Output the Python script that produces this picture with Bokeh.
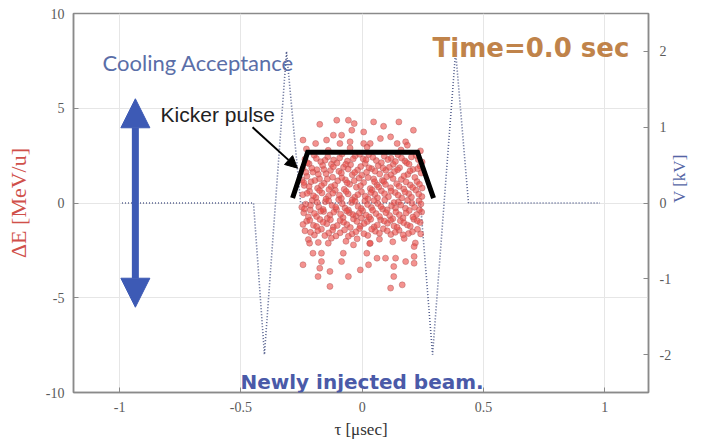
import math
from bokeh.plotting import figure
from bokeh.models import Range1d, LinearAxis, FixedTicker, Label, Arrow, NormalHead, ColumnDataSource
from bokeh.embed import file_html
from bokeh.resources import INLINE

# ---- data ----
x_ticks = [-1, -0.5, 0, 0.5, 1]
x_tick_labels = ["-1", "-0.5", "0", "0.5", "1"]
de_ticks = [-10, -5, 0, 5, 10]
de_tick_labels = ["-10", "-5", "0", "5", "10"]
v_ticks = [-2, -1, 0, 1, 2]
v_tick_labels = ["-2", "-1", "0", "1", "2"]

# RF voltage waveform (barrier bucket), V [kV]
wave_tau = [-0.99, -0.448, -0.403, -0.312, -0.254, 0.240, 0.290, 0.385, 0.438, 0.98]
wave_v = [0, 0, -2.0, 2.0, 0, 0, -2.0, 2.0, 0, 0]

# kicker pulse outline (in dE units)
kicker_tau = [-0.287, -0.225, 0.228, 0.294]
kicker_de = [0.26, 2.68, 2.68, 0.26]

# newly injected beam particles (tau [usec], dE [MeV/u])
beam_points = [
    (-0.236, 2.31), (-0.198, 2.52), (-0.171, 2.18), (-0.142, 2.44), (-0.118, 2.27), (-0.083, 2.58),
    (-0.061, 2.21), (-0.029, 2.49), (0.004, 2.33), (0.027, 2.56), (0.058, 2.24), (0.091, 2.47),
    (0.119, 2.36), (0.147, 2.55), (0.176, 2.22), (0.203, 2.43), (0.231, 2.29),
    (-0.244, 1.83), (-0.219, 2.07), (-0.187, 1.76), (-0.163, 1.98), (-0.131, 1.72), (-0.104, 2.11),
    (-0.077, 1.89), (-0.048, 2.02), (-0.019, 1.74), (0.012, 2.09), (0.039, 1.81), (0.066, 1.97),
    (0.097, 1.73), (0.128, 2.04), (0.154, 1.86), (0.183, 2.13), (0.209, 1.77), (0.238, 1.95),
    (-0.006, 1.92), (0.112, 1.88),
    (-0.228, 1.41), (-0.203, 1.63), (-0.176, 1.28), (-0.149, 1.55), (-0.122, 1.36), (-0.096, 1.67),
    (-0.069, 1.22), (-0.041, 1.49), (-0.013, 1.31), (0.018, 1.62), (0.047, 1.27), (0.072, 1.53),
    (0.101, 1.39), (0.133, 1.66), (0.161, 1.24), (0.188, 1.51), (0.217, 1.35), (0.243, 1.58),
    (-0.248, 1.21), (0.083, 1.19),
    (-0.239, 0.93), (-0.211, 1.12), (-0.184, 0.78), (-0.157, 1.04), (-0.128, 0.86), (-0.101, 1.17),
    (-0.074, 0.72), (-0.052, 0.99), (-0.024, 0.83), (0.006, 1.08), (0.033, 0.76), (0.061, 0.96),
    (0.089, 1.14), (0.117, 0.81), (0.142, 1.02), (0.171, 0.74), (0.198, 0.95), (0.226, 1.13),
    (0.247, 0.79), (-0.137, 0.71),
    (-0.245, 0.44), (-0.217, 0.62), (-0.191, 0.29), (-0.166, 0.53), (-0.139, 0.36), (-0.111, 0.67),
    (-0.086, 0.24), (-0.058, 0.48), (-0.031, 0.31), (-0.003, 0.59), (0.024, 0.22), (0.052, 0.46),
    (0.079, 0.64), (0.108, 0.33), (0.136, 0.55), (0.163, 0.27), (0.192, 0.49), (0.221, 0.68),
    (0.246, 0.34), (0.041, 0.69),
    (-0.233, -0.06), (-0.206, 0.14), (-0.179, -0.21), (-0.152, 0.07), (-0.124, -0.13), (-0.097, 0.18),
    (-0.071, -0.27), (-0.044, 0.02), (-0.017, -0.18), (0.011, 0.11), (0.038, -0.24), (0.064, -0.03),
    (0.093, 0.16), (0.121, -0.15), (0.149, 0.05), (0.178, -0.28), (0.205, -0.01), (0.234, 0.12),
    (-0.249, -0.22), (0.137, -0.26),
    (-0.241, -0.52), (-0.214, -0.37), (-0.188, -0.71), (-0.159, -0.45), (-0.133, -0.63), (-0.106, -0.34),
    (-0.079, -0.77), (-0.053, -0.51), (-0.026, -0.68), (0.002, -0.41), (0.029, -0.74), (0.057, -0.56),
    (0.084, -0.32), (0.113, -0.66), (0.139, -0.47), (0.168, -0.79), (0.194, -0.39), (0.224, -0.61),
    (0.245, -0.48), (-0.003, -0.79),
    (-0.229, -0.96), (-0.201, -1.18), (-0.174, -0.87), (-0.146, -1.09), (-0.119, -1.27), (-0.091, -0.92),
    (-0.063, -1.14), (-0.036, -0.84), (-0.008, -1.22), (0.021, -0.98), (0.049, -1.26), (0.076, -0.89),
    (0.104, -1.07), (0.131, -1.21), (0.157, -0.94), (0.186, -1.16), (0.213, -0.86), (0.239, -1.03),
    (-0.236, -1.47), (-0.197, -1.69), (-0.168, -1.38), (-0.138, -1.58), (-0.108, -1.74), (-0.073, -1.42),
    (-0.042, -1.63), (-0.011, -1.35), (0.023, -1.71), (0.054, -1.49), (0.087, -1.36), (0.118, -1.66),
    (0.152, -1.44), (0.191, -1.61), (0.228, -1.39),
    (-0.222, -1.93), (-0.181, -2.08), (-0.127, -1.86), (-0.067, -2.02), (-0.021, -1.89), (0.031, -2.14),
    (0.071, -1.91), (0.126, -2.05), (0.173, -1.87), (0.219, -2.11),
    # second pass over the dense core
    (-0.226, 2.12), (-0.189, 2.35), (-0.153, 2.26), (-0.127, 2.05), (-0.093, 2.38), (-0.068, 2.04),
    (-0.037, 2.33), (-0.011, 2.57), (0.016, 2.28), (0.044, 2.41), (0.079, 2.13), (0.106, 2.29),
    (0.137, 2.19), (0.162, 2.37), (0.193, 2.05), (0.222, 2.51), (0.247, 2.16),
    (-0.232, 1.62), (-0.208, 1.84), (-0.181, 1.52), (-0.158, 1.77), (-0.119, 1.91), (-0.086, 1.58),
    (-0.058, 1.79), (-0.031, 1.61), (-0.002, 1.47), (0.028, 1.86), (0.053, 1.68), (0.086, 1.84),
    (0.118, 1.49), (0.146, 1.76), (0.172, 1.43), (0.197, 1.69), (0.229, 1.81),
    (-0.241, 1.08), (-0.219, 0.87), (-0.195, 1.19), (-0.168, 0.92), (-0.144, 1.26), (-0.113, 0.94),
    (-0.084, 1.33), (-0.062, 1.07), (-0.033, 1.18), (-0.007, 0.91), (0.024, 1.34), (0.051, 1.12),
    (0.068, 0.84), (0.096, 0.98), (0.127, 1.29), (0.152, 0.88), (0.181, 1.11), (0.208, 0.82), (0.236, 0.99),
    (-0.227, 0.51), (-0.201, 0.38), (-0.176, 0.66), (-0.149, 0.21), (-0.121, 0.52), (-0.094, 0.41),
    (-0.066, 0.61), (-0.041, 0.17), (-0.018, 0.44), (0.013, 0.36), (0.036, 0.55), (0.063, 0.27),
    (0.092, 0.49), (0.119, 0.63), (0.148, 0.41), (0.177, 0.58), (0.203, 0.31), (0.233, 0.47),
    (-0.238, -0.31), (-0.213, -0.12), (-0.186, 0.04), (-0.161, -0.34), (-0.138, 0.11), (-0.109, -0.22),
    (-0.082, -0.04), (-0.057, -0.37), (-0.029, 0.09), (-0.004, -0.29), (0.022, -0.08), (0.049, 0.13),
    (0.077, -0.19), (0.103, -0.36), (0.131, 0.02), (0.159, -0.11), (0.187, 0.14), (0.216, -0.23), (0.242, -0.05),
    (-0.222, -0.73), (-0.197, -0.55), (-0.171, -0.43), (-0.144, -0.81), (-0.117, -0.48), (-0.089, -0.59),
    (-0.064, -0.42), (-0.039, -0.61), (-0.012, -0.53), (0.016, -0.64), (0.043, -0.38), (0.071, -0.71),
    (0.098, -0.51), (0.126, -0.83), (0.153, -0.62), (0.181, -0.53), (0.209, -0.74), (0.236, -0.36),
    (-0.244, -1.13), (-0.216, -0.91), (-0.188, -1.24), (-0.161, -1.02), (-0.131, -0.88), (-0.103, -1.19),
    (-0.077, -1.01), (-0.049, -1.29), (-0.022, -0.97), (0.008, -1.08), (0.035, -0.86), (0.062, -1.17),
    (0.091, -0.95), (0.117, -0.91), (0.144, -1.28), (0.171, -1.04), (0.198, -1.23), (0.227, -0.94),
    (-0.213, -1.55), (-0.183, -1.46), (-0.154, -1.72), (-0.122, -1.43), (-0.091, -1.57), (-0.057, -1.76),
    (-0.026, -1.52), (0.007, -1.62), (0.039, -1.38), (0.071, -1.59), (0.103, -1.47), (0.136, -1.55),
    (0.169, -1.68), (0.207, -1.52), (0.241, -1.63),
    # sparse upper halo
    (-0.23, 2.85), (-0.05, 2.9), (0.16, 2.8), (0.24, 2.75), (0.02, 2.95), (-0.14, 2.78),
    (-0.105, 4.37), (-0.057, 4.37), (-0.033, 4.19), (0.047, 4.28), (0.151, 4.28), (0.211, 3.84),
    (-0.043, 3.84), (0.006, 3.75), (-0.119, 3.58), (-0.085, 3.58), (0.075, 3.40), (0.117, 3.49),
    (0.179, 3.23), (-0.244, 3.32), (-0.192, 3.14), (-0.147, 3.32), (-0.092, 3.14), (-0.05, 3.23),
    (0.006, 3.14), (0.033, 3.14), (0.144, 3.14), (0.186, 3.05), (-0.175, 4.15), (0.088, 4.05),
    # sparse lower halo
    (-0.244, -3.26), (-0.133, -3.61), (-0.133, -4.40), (-0.057, -3.88), (-0.008, -3.53), (-0.182, -3.88),
    (-0.175, -3.44), (-0.085, -3.09), (0.026, -3.26), (0.061, -2.91), (0.096, -2.91), (0.1375, -2.91),
    (0.130, -3.35), (0.130, -3.88), (0.117, -4.49), (0.165, -4.32), (0.179, -3.09), (0.214, -3.18),
    (0.214, -2.30), (-0.217, -2.12), (-0.168, -2.65), (-0.203, -2.65), (-0.078, -2.65), (0.019, -2.65),
    (-0.140, -2.12), (-0.036, -2.21), (0.033, -2.12), (0.214, -2.82), (-0.168, -3.09),
]
beam_tau = [pt[0] for pt in beam_points]
beam_de = [pt[1] for pt in beam_points]

# ---- figure ----
p = figure(width=702, height=445, output_backend="svg", toolbar_location=None,
           x_range=Range1d(-1.19, 1.18), y_range=Range1d(-10, 10),
           min_border_left=73, min_border_right=54, min_border_top=13, min_border_bottom=53)
p.extra_y_ranges = {"v": Range1d(-2.5, 2.5)}
p.background_fill_color = "white"
p.border_fill_color = "white"
p.outline_line_color = "#8a8a8a"
p.outline_line_width = 1.5

SERIF = "Liberation Serif"

def style_axis(ax, ticks, labels, standoff):
    ax.ticker = FixedTicker(ticks=ticks)
    ax.major_label_overrides = {t: l for t, l in zip(ticks, labels)}
    ax.major_tick_in = 5
    ax.major_tick_out = 0
    ax.minor_tick_line_color = None
    ax.axis_line_color = "#8a8a8a"
    ax.axis_line_width = 1.5
    ax.major_tick_line_color = "#8a8a8a"
    ax.major_label_text_font = SERIF
    ax.major_label_text_font_size = "14px"
    ax.major_label_text_color = "#5a5a5a"
    ax.major_label_standoff = standoff
    ax.axis_label_text_font = SERIF
    ax.axis_label_text_font_style = "normal"

style_axis(p.xaxis[0], x_ticks, x_tick_labels, 9)
p.xaxis[0].axis_label = "τ [μsec]"
p.xaxis[0].axis_label_text_font_size = "17px"
p.xaxis[0].axis_label_text_color = "#333333"
p.xaxis[0].axis_label_standoff = 5

style_axis(p.yaxis[0], de_ticks, de_tick_labels, 9)
p.yaxis[0].axis_label = "ΔE [MeV/u]"
p.yaxis[0].axis_label_text_font_size = "22px"
p.yaxis[0].axis_label_text_color = "#d0504a"
p.yaxis[0].axis_label_standoff = 12

vaxis = LinearAxis(y_range_name="v")
style_axis(vaxis, v_ticks, v_tick_labels, 11)
vaxis.axis_label = "V [kV]"
vaxis.axis_label_text_font_size = "17px"
vaxis.axis_label_text_color = "#5565a5"
vaxis.axis_label_standoff = 5
try:
    vaxis.axis_label_orientation = math.pi / 2
except Exception:
    pass
p.add_layout(vaxis, "right")

p.xgrid.ticker = FixedTicker(ticks=x_ticks)
p.ygrid.ticker = FixedTicker(ticks=de_ticks)
p.xgrid.grid_line_color = "#e6e6e6"
p.ygrid.grid_line_color = "#e6e6e6"

# voltage waveform
p.line(wave_tau, wave_v, y_range_name="v", line_color="#56618f", line_width=1.6, line_dash="1 2")

# beam particles
src = ColumnDataSource(dict(tau=beam_tau, de=beam_de))
p.scatter("tau", "de", source=src, marker="circle", size=6,
          fill_color="#ec4a45", fill_alpha=0.6, line_color="#b25a5a", line_alpha=0.6, line_width=0.8)

# kicker pulse
p.line(kicker_tau, kicker_de, line_color="black", line_width=5, line_join="miter")

# annotations
BLUE = "#3d5ab5"
p.add_layout(Arrow(x_start=-0.935, y_start=0, x_end=-0.935, y_end=5.5,
                   end=NormalHead(size=29, fill_color=BLUE, line_color=BLUE),
                   line_color=BLUE, line_width=7))
p.add_layout(Arrow(x_start=-0.935, y_start=0, x_end=-0.935, y_end=-5.5,
                   end=NormalHead(size=29, fill_color=BLUE, line_color=BLUE),
                   line_color=BLUE, line_width=7))
p.add_layout(Arrow(x_start=-0.452, y_start=4.0, x_end=-0.267, y_end=1.84,
                   end=NormalHead(size=12, fill_color="black", line_color="black"),
                   line_color="black", line_width=2))

p.add_layout(Label(x=-1.07, y=7.42, text="Cooling Acceptance", text_font="Lato",
                   text_font_size="22px", text_color="#5a6ea8", text_baseline="middle"))
p.add_layout(Label(x=-0.831, y=4.66, text="Kicker pulse", text_font="Liberation Sans",
                   text_font_size="21px", text_color="#222222", text_baseline="middle"))
p.add_layout(Label(x=0.29, y=8.2, text="Time=0.0 sec", text_font="DejaVu Sans",
                   text_font_style="bold", text_font_size="26px", text_color="#c0834a",
                   text_baseline="middle"))
p.add_layout(Label(x=-0.502, y=-9.47, text="Newly injected beam.", text_font="DejaVu Sans",
                   text_font_style="bold", text_font_size="20px", text_color="#4a5aa8",
                   text_baseline="middle"))

open("out.html", "w").write(file_html(p, INLINE))
